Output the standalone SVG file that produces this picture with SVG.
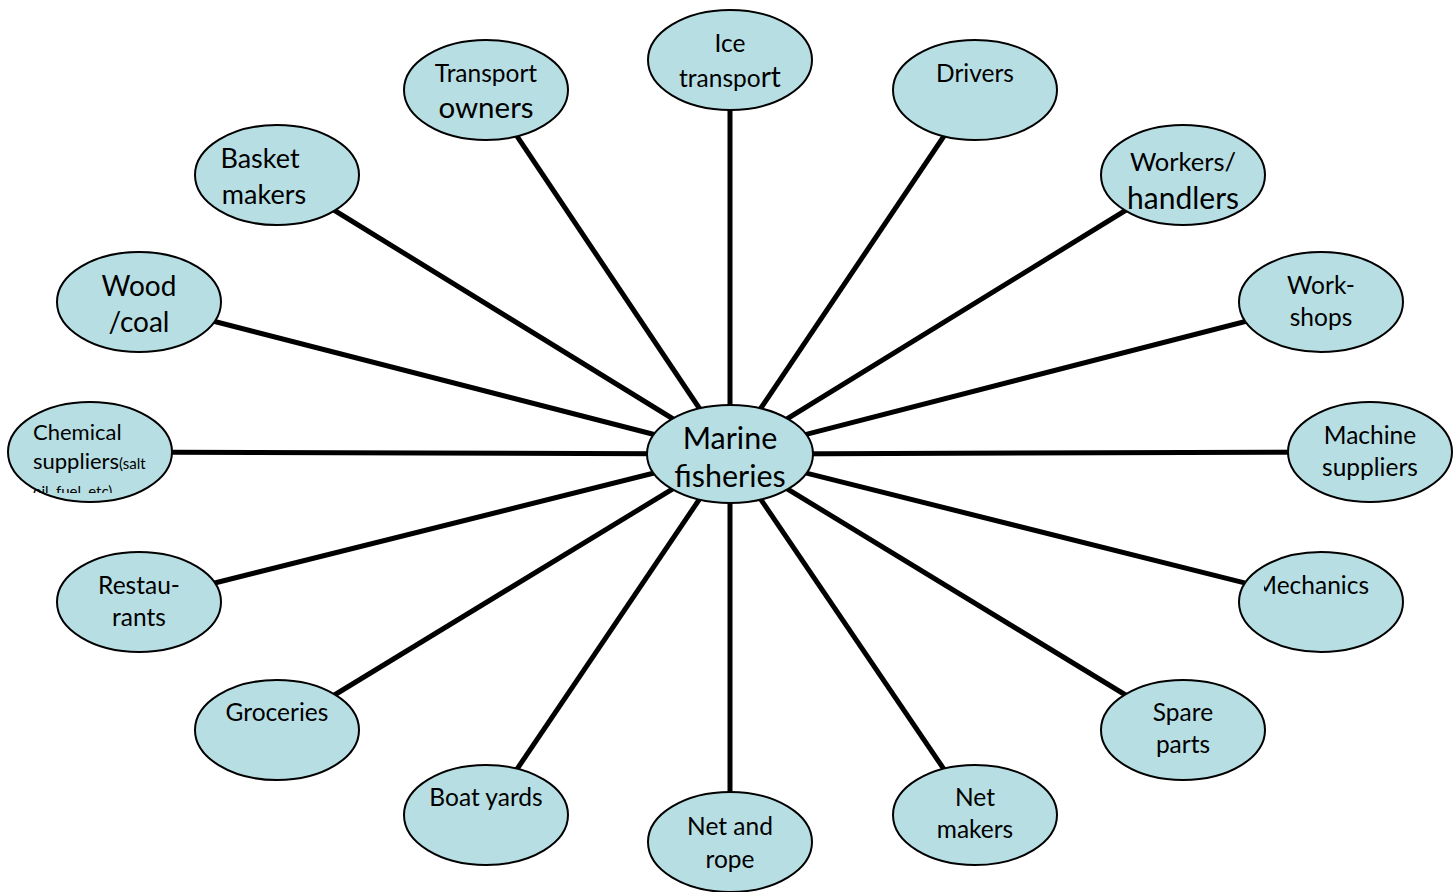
<svg xmlns="http://www.w3.org/2000/svg" width="1456" height="892" viewBox="0 0 1456 892">
<defs>
<style>
.n{fill:#b7dfe3;stroke:#000;stroke-width:2}
.c line{stroke:#000;stroke-width:5}
text{font-family:Lato,"Open Sans","Liberation Sans",sans-serif;fill:#000;font-size:24.5px;text-anchor:middle}
.b{font-size:29.5px}
.m{font-size:30.5px}
</style>
<clipPath id="chemClip"><rect x="28" y="412" width="122" height="81"/></clipPath>
<clipPath id="mechClip"><rect x="1264" y="560" width="130" height="50"/></clipPath>
</defs>
<rect width="1456" height="892" fill="#fff"/>
<g class="c" id="connectors">
<line x1="730" y1="454" x2="730" y2="60"/>
<line x1="730" y1="454" x2="486" y2="90"/>
<line x1="730" y1="454" x2="975" y2="90"/>
<line x1="730" y1="454" x2="277" y2="175"/>
<line x1="730" y1="454" x2="1183" y2="175"/>
<line x1="730" y1="454" x2="139" y2="302"/>
<line x1="730" y1="454" x2="1321" y2="302"/>
<line x1="730" y1="454" x2="90" y2="452"/>
<line x1="730" y1="454" x2="1370" y2="452"/>
<line x1="730" y1="454" x2="139" y2="602"/>
<line x1="730" y1="454" x2="1321" y2="602"/>
<line x1="730" y1="454" x2="277" y2="730"/>
<line x1="730" y1="454" x2="1183" y2="730"/>
<line x1="730" y1="454" x2="486" y2="815"/>
<line x1="730" y1="454" x2="975" y2="815"/>
<line x1="730" y1="454" x2="730" y2="842"/>
</g>
<g id="ice"><ellipse class="n" cx="730" cy="60" rx="82" ry="50"/><text x="730" y="52">Ice</text><text x="730" y="87">transpo<tspan style="font-size:28px">rt</tspan></text></g>
<g id="transport-owners"><ellipse class="n" cx="486" cy="90" rx="82" ry="50"/><text x="486" y="82">Transport</text><text class="b" x="486" y="118">owners</text></g>
<g id="drivers"><ellipse class="n" cx="975" cy="90" rx="82" ry="50"/><text x="975" y="82">Drivers</text></g>
<g id="basket-makers"><ellipse class="n" cx="277" cy="175" rx="82" ry="50"/><text x="260" y="168" style="font-size:27px">Basket</text><text x="264" y="204" style="font-size:27px">makers</text></g>
<g id="workers"><ellipse class="n" cx="1183" cy="175" rx="82" ry="50"/><text x="1183" y="171" style="font-size:25.5px">Workers/</text><text x="1183" y="209" style="font-size:30px">handlers</text></g>
<g id="wood-coal"><ellipse class="n" cx="139" cy="302" rx="82" ry="50"/><text x="139" y="296" style="font-size:28px">Wood</text><text x="139" y="332" style="font-size:28px">/coal</text></g>
<g id="workshops"><ellipse class="n" cx="1321" cy="302" rx="82" ry="50"/><text x="1321" y="294">Work-</text><text x="1321" y="326">shops</text></g>
<g id="chemical"><ellipse class="n" cx="90" cy="452" rx="82" ry="50"/><g clip-path="url(#chemClip)"><text x="33" y="440" style="text-anchor:start;font-size:22px">Chemical</text><text x="33" y="469" style="text-anchor:start;font-size:22px">suppliers<tspan style="font-size:15px">(salt</tspan></text><text x="33" y="497" style="text-anchor:start;font-size:15px">oil, fuel, etc)</text></g></g>
<g id="machine"><ellipse class="n" cx="1370" cy="452" rx="82" ry="50"/><text x="1370" y="444">Machine</text><text x="1370" y="476">suppliers</text></g>
<g id="restaurants"><ellipse class="n" cx="139" cy="602" rx="82" ry="50"/><text x="139" y="594">Restau-</text><text x="139" y="626">rants</text></g>
<g id="mechanics"><ellipse class="n" cx="1321" cy="602" rx="82" ry="50"/><g clip-path="url(#mechClip)"><text x="1369" y="594" style="text-anchor:end">Mechanics</text></g></g>
<g id="groceries"><ellipse class="n" cx="277" cy="730" rx="82" ry="50"/><text x="277" y="721">Groceries</text></g>
<g id="spare-parts"><ellipse class="n" cx="1183" cy="730" rx="82" ry="50"/><text x="1183" y="721">Spare</text><text x="1183" y="753">parts</text></g>
<g id="boat-yards"><ellipse class="n" cx="486" cy="815" rx="82" ry="50"/><text x="486" y="806">Boat yards</text></g>
<g id="net-makers"><ellipse class="n" cx="975" cy="815" rx="82" ry="50"/><text x="975" y="806">Net</text><text x="975" y="838">makers</text></g>
<g id="net-rope"><ellipse class="n" cx="730" cy="842" rx="82" ry="50"/><text x="730" y="835">Net and</text><text x="730" y="868">rope</text></g>
<g id="marine"><ellipse class="n" cx="730" cy="454" rx="83" ry="49"/><text class="m" x="730" y="449">Marine</text><text class="m" x="730" y="487">fisheries</text></g>
</svg>
